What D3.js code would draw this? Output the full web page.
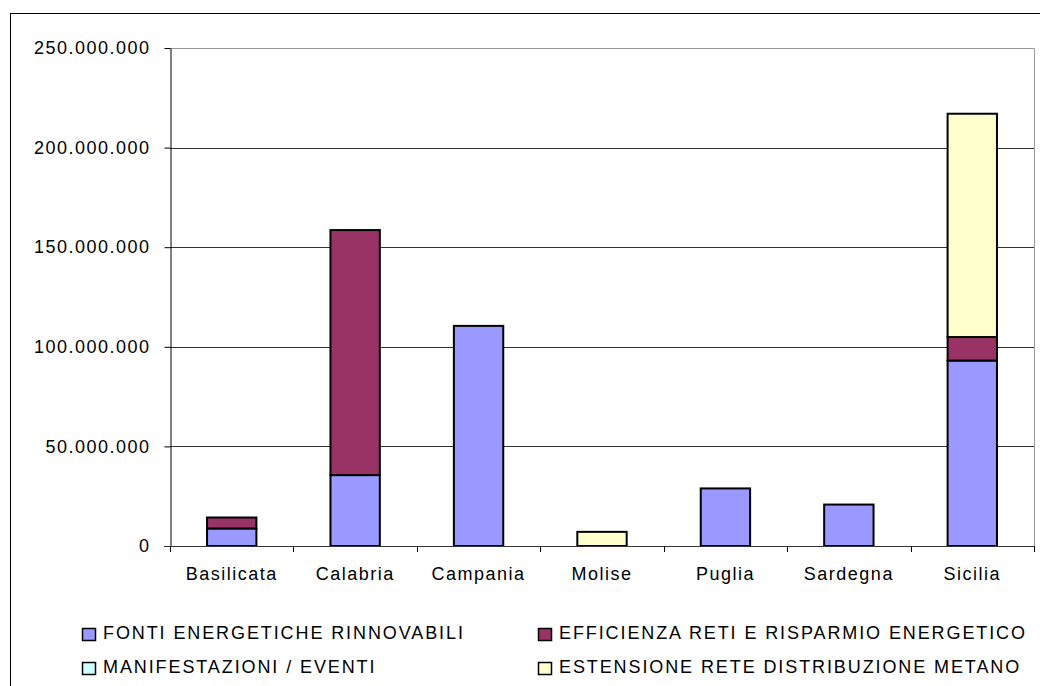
<!DOCTYPE html>
<html>
<head>
<meta charset="utf-8">
<script src="https://cdn.jsdelivr.net/npm/d3@7"></script>
<style>
  body { margin: 0; background: #fff; }
  text { font-family: "Liberation Sans", Arial, sans-serif; font-size: 18px; fill: #000; letter-spacing: 1.5px; }
</style>
</head>
<body>
<div id="chart"></div>
<script>
// values in euro
const regions = ["Basilicata", "Calabria", "Campania", "Molise", "Puglia", "Sardegna", "Sicilia"];
const fonti = [8.8e6, 35.6e6, 110.5e6, 0, 28.9e6, 20.8e6, 93.1e6];
const efficienza = [5.5e6, 123.0e6, 0, 0, 0, 0, 11.8e6];
const manifestazioni = [0, 0, 0, 0, 0, 0, 0];
const metano = [0, 0, 0, 7.1e6, 0, 0, 112.1e6];
const seriesNames = ["FONTI ENERGETICHE RINNOVABILI", "EFFICIENZA RETI E RISPARMIO ENERGETICO",
                     "MANIFESTAZIONI / EVENTI", "ESTENSIONE RETE DISTRIBUZIONE METANO"];
const seriesColors = ["#9999ff", "#993366", "#ccffff", "#ffffcc"];
const yTicks = [0, 50e6, 100e6, 150e6, 200e6, 250e6];

const width = 1040, height = 686;
const plotL = 170, plotR = 1034, plotT = 48, plotB = 546;

// table for d3.stack
const seriesValues = [fonti, efficienza, manifestazioni, metano];
const table = regions.map((r, i) => {
    const row = { region: r };
    seriesNames.forEach((k, j) => row[k] = seriesValues[j][i]);
    return row;
});

const it = d3.formatLocale({ decimal: ",", thousands: ".", grouping: [3], currency: ["", ""] });
const fmt = it.format(",");

const x = d3.scaleBand()
    .domain(regions)
    .range([plotL, plotR])
    .paddingInner(0.6)
    .paddingOuter(0.3);

const y = d3.scaleLinear()
    .domain([0, 250e6])
    .range([plotB, plotT]);

const svg = d3.select("#chart").append("svg")
    .attr("width", width)
    .attr("height", height);

// outer chart frame (runs past the right and bottom edge)
svg.append("rect")
    .attr("x", 10.5).attr("y", 13.5)
    .attr("width", 1100).attr("height", 800)
    .attr("fill", "none").attr("stroke", "#000");

// gridlines
svg.append("g")
    .selectAll("line")
    .data(yTicks.filter(d => d > 0))
    .join("line")
    .attr("x1", plotL).attr("x2", plotR)
    .attr("y1", d => Math.round(y(d)) + 0.5)
    .attr("y2", d => Math.round(y(d)) + 0.5)
    .attr("stroke", "#333");

// plot area border (top/right)
svg.append("path")
    .attr("d", `M${plotL},${plotT + 0.5}H${plotR + 0.5}V${plotB}`)
    .attr("fill", "none")
    .attr("stroke", "#999");

// bars
const stack = d3.stack().keys(seriesNames);
const layers = stack(table);

svg.append("g")
    .selectAll("g")
    .data(layers)
    .join("g")
    .attr("fill", (d, i) => seriesColors[i])
    .selectAll("rect")
    .data(d => d.filter(p => p[1] - p[0] > 0))
    .join("rect")
    .attr("x", d => x(d.data.region))
    .attr("width", x.bandwidth())
    .attr("y", d => y(d[1]))
    .attr("height", d => y(d[0]) - y(d[1]))
    .attr("stroke", "#000")
    .attr("stroke-width", 2);

// y axis
const yAxis = svg.append("g")
    .attr("transform", `translate(${plotL + 0.5},0)`)
    .call(d3.axisLeft(y).tickValues(yTicks).tickFormat(fmt).tickSize(6).tickSizeOuter(0).tickPadding(14));
yAxis.select(".domain").attr("stroke", "#000");
yAxis.selectAll(".tick line").attr("stroke", "#000");
yAxis.selectAll("text").attr("font-size", null).attr("font-family", null);

// x axis
const step = x.step();
const xAxis = svg.append("g")
    .attr("transform", `translate(0,${plotB + 0.5})`)
    .call(d3.axisBottom(x).tickSize(0).tickSizeOuter(0).tickPadding(21));
xAxis.select(".domain").attr("stroke", "#333").attr("d", `M${plotL - 6},0H${plotR}`);
xAxis.selectAll("text").attr("font-size", null).attr("font-family", null);
svg.append("g")
    .selectAll("line")
    .data(d3.range(regions.length + 1))
    .join("line")
    .attr("x1", i => Math.round(plotL + i * step) + 0.5)
    .attr("x2", i => Math.round(plotL + i * step) + 0.5)
    .attr("y1", plotB).attr("y2", plotB + 6)
    .attr("stroke", "#000");

// legend
const legendPos = [[82, 628], [538, 628], [82, 662], [538, 662]];
const legend = svg.append("g")
    .selectAll("g")
    .data(seriesNames)
    .join("g")
    .attr("transform", (d, i) => `translate(${legendPos[i][0]},${legendPos[i][1]})`);
legend.append("rect")
    .attr("x", 0.5).attr("y", 0.5)
    .attr("width", 13).attr("height", 12)
    .attr("fill", (d, i) => seriesColors[i])
    .attr("stroke", "#000")
    .attr("stroke-width", 1.5);
legend.append("text")
    .attr("x", 21)
    .attr("y", 11)
    .style("letter-spacing", "1.9px")
    .text(d => d);
</script>
</body>
</html>
